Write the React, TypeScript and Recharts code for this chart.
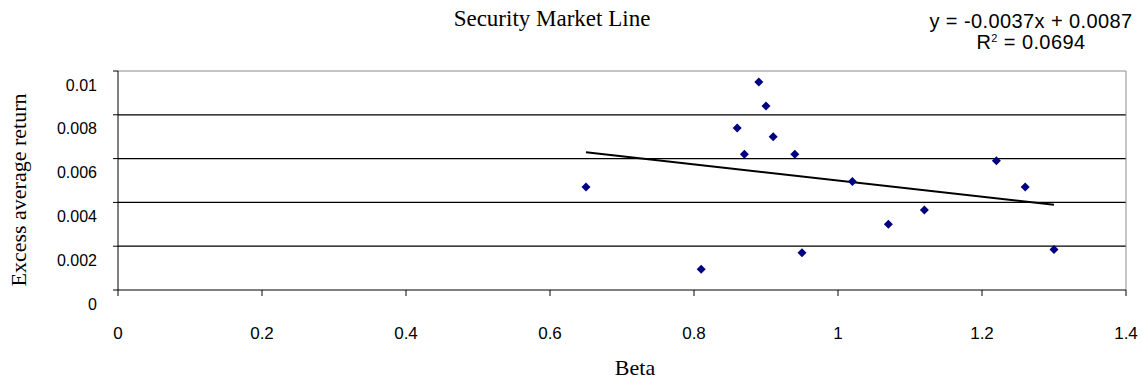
import React from 'react'
import { ScatterChart, Scatter, XAxis, YAxis, ReferenceLine } from 'recharts'

const BETA = [0.65, 0.81, 0.86, 0.87, 0.89, 0.9, 0.91, 0.94, 0.95, 1.02, 1.07, 1.12, 1.22, 1.26, 1.3]
const EXCESS = [0.0047, 0.00095, 0.0074, 0.0062, 0.0095, 0.0084, 0.007, 0.0062, 0.0017, 0.00495, 0.003, 0.00365, 0.0059, 0.0047, 0.00185]
const X_TICKS = [0, 0.2, 0.4, 0.6, 0.8, 1, 1.2, 1.4]
const Y_TICKS = [0, 0.002, 0.004, 0.006, 0.008, 0.01]
const GRID_Y = [0.002, 0.004, 0.006, 0.008]
const SLOPE = -0.0037
const INTERCEPT = 0.0087
const R2 = '0.0694'

const points = BETA.map((b, i) => ({ beta: b, ret: EXCESS[i] }))
const bMin = Math.min(...BETA)
const bMax = Math.max(...BETA)
const trend = [bMin, bMax].map(b => ({ beta: b, ret: SLOPE * b + INTERCEPT }))

const sans = '"Liberation Sans", Arial, sans-serif'
const serif = '"Liberation Serif", "Times New Roman", serif'

function Diamond({ cx, cy }: any) {
  const r = 4.5
  return <polygon points={`${cx},${cy - r} ${cx + r},${cy} ${cx},${cy + r} ${cx - r},${cy}`} fill="#000080" />
}

function XTick({ x, y, payload }: any) {
  return (
    <text x={x} y={y} textAnchor="middle" dominantBaseline="central"
      fontFamily={sans} fontSize={17} fill="#000">{String(payload.value)}</text>
  )
}

function YTick({ x, y, payload }: any) {
  return (
    <text x={x} y={y + 14} textAnchor="end" dominantBaseline="central"
      fontFamily={sans} fontSize={16} fill="#000">{String(payload.value)}</text>
  )
}

// centred text box, wide enough never to shrink
const centred = (cx: number, top: number, extra: React.CSSProperties): React.CSSProperties => ({
  position: 'absolute', left: cx - 200, width: 400, top, textAlign: 'center', whiteSpace: 'nowrap', ...extra,
})

export default function App() {
  return (
    <div style={{ position: 'relative', width: 1142, height: 381, background: '#fff', overflow: 'hidden' }}>
      <style>{'body{margin:0}'}</style>
      <ScatterChart width={1142} height={381} margin={{ top: 71, right: 16, bottom: 0, left: 0 }}>
        <XAxis type="number" dataKey="beta" domain={[0, 1.4]} ticks={X_TICKS}
          axisLine={{ stroke: '#000' }} tickLine={{ stroke: '#000' }}
          tickSize={6} tickMargin={37} tick={<XTick />} height={91} />
        <YAxis type="number" dataKey="ret" domain={[0, 0.01]} ticks={Y_TICKS}
          axisLine={{ stroke: '#000' }} tickLine={{ stroke: '#000' }}
          tickSize={5} tickMargin={16} tick={<YTick />} width={118} />
        {GRID_Y.map(v => (
          <ReferenceLine key={v} y={v} stroke="#000" strokeWidth={1.2} />
        ))}
        <ReferenceLine y={0.01} stroke="#8c8c8c" />
        <ReferenceLine x={1.4} stroke="#8c8c8c" />
        <Scatter data={trend} line={{ stroke: '#000', strokeWidth: 2 }}
          shape={() => <g />} isAnimationActive={false} />
        <Scatter data={points} shape={<Diamond />} isAnimationActive={false} />
      </ScatterChart>

      <div style={centred(552, 7, { fontFamily: serif, fontSize: 23, lineHeight: '24px' })}>
        Security Market Line
      </div>
      <div style={centred(1031, 11, { fontFamily: sans, fontSize: 20, lineHeight: '20px', letterSpacing: 0.4 })}>
        y = {SLOPE}x + {INTERCEPT}
      </div>
      <div style={centred(1031, 32, { fontFamily: sans, fontSize: 20, lineHeight: '20px', letterSpacing: 0.4 })}>
        R<span style={{ fontSize: 11, lineHeight: '11px', position: 'relative', top: -7 }}>2</span> = {R2}
      </div>
      <div style={centred(635, 356, { fontFamily: serif, fontSize: 22, lineHeight: '24px' })}>
        Beta
      </div>
      <div style={{ position: 'absolute', left: 19, top: 190, transform: 'translate(-50%, -50%) rotate(-90deg)',
        fontFamily: serif, fontSize: 22, lineHeight: '24px', whiteSpace: 'nowrap' }}>
        Excess average return
      </div>
    </div>
  )
}
